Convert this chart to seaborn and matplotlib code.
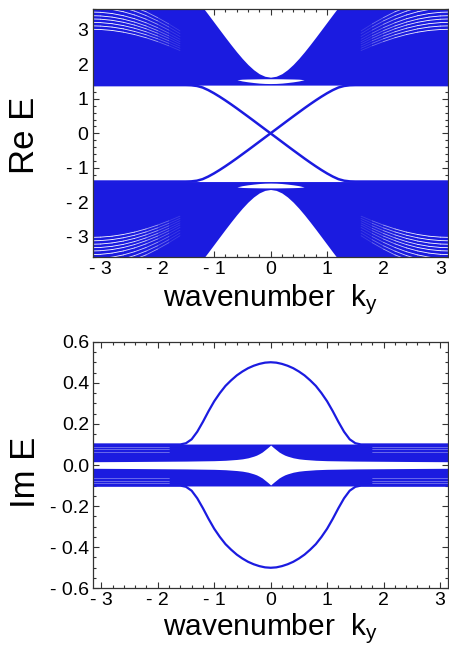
import numpy as np
import pandas as pd
import seaborn as sns
import matplotlib
matplotlib.use("Agg")
import matplotlib.pyplot as plt
from matplotlib.ticker import MultipleLocator, FuncFormatter

BLUE = "#1b1be0"

# ---- values for k >= 0 (the spectrum is even in k, and E -> -E)
# Re E: upper edge of the upper bulk band (lower edge is flat at re_floor)
k_env = [0.0, 0.1, 0.2, 0.3, 0.4, 0.5, 0.6, 0.7, 0.8, 0.9, 1.0, 1.1, 1.2, 1.3, np.pi]
re_env = [1.63, 1.657, 1.731, 1.849, 1.999, 2.175, 2.369, 2.576, 2.790, 3.009,
          3.229, 3.449, 3.665, 3.8, 3.8]
re_floor = 1.40

# small gap (lens) inside the bulk band near k = 0
k_lens = [0.0, 0.1, 0.2, 0.3, 0.4, 0.5, 0.59]
lens_lo = [1.445, 1.448, 1.458, 1.475, 1.495, 1.52, 1.555]
lens_hi = [1.585, 1.585, 1.583, 1.58, 1.577, 1.572, 1.558]

# thin gaps between the sparse bulk levels at large |k|
k_streak = [1.6, 1.8, 2.0, 2.2, 2.4, 2.6, 2.8, 3.0, np.pi]
streaks = [
    [2.973, 3.178, 3.363, 3.530, 3.656, 3.750, 3.800, 3.830, 3.840],
    [2.894, 3.091, 3.268, 3.420, 3.548, 3.647, 3.700, 3.730, 3.740],
    [2.813, 3.000, 3.168, 3.315, 3.436, 3.530, 3.596, 3.633, 3.640],
    [2.733, 2.911, 3.071, 3.210, 3.326, 3.415, 3.478, 3.513, 3.520],
    [2.663, 2.833, 2.986, 3.118, 3.229, 3.315, 3.375, 3.408, 3.415],
    [2.601, 2.763, 2.909, 3.036, 3.142, 3.224, 3.281, 3.313, 3.320],
    [2.535, 2.689, 2.828, 2.949, 3.050, 3.128, 3.183, 3.214, 3.220],
    [2.470, 2.616, 2.748, 2.863, 2.958, 3.033, 3.085, 3.114, 3.120],
    [2.405, 2.543, 2.667, 2.776, 2.867, 2.937, 2.987, 3.014, 3.020],
]
streak_alpha = [0.15, 0.35, 0.6, 0.8, 0.9, 1.0, 1.0, 1.0]

# edge states
k_edge = [0.0, 0.1, 0.2, 0.3, 0.4, 0.5, 0.6, 0.7, 0.8, 0.9, 1.0, 1.1, 1.2, 1.3, 1.4,
          1.5, 1.6, 2.0, 2.5, np.pi]
re_edge = [0.0, 0.122, 0.245, 0.368, 0.49, 0.61, 0.73, 0.846, 0.958, 1.065, 1.165,
           1.255, 1.33, 1.375, 1.395, 1.40, 1.40, 1.40, 1.40, 1.40]
im_edge = [0.500, 0.498, 0.492, 0.483, 0.471, 0.455, 0.436, 0.412, 0.385, 0.350, 0.310,
           0.262, 0.210, 0.162, 0.125, 0.106, 0.100, 0.100, 0.100, 0.100]

# Im E: bulk band spans im_gap .. im_top (and mirrored below zero)
k_gap = [0.0, 0.05, 0.1, 0.15, 0.2, 0.25, 0.3, 0.4, 0.5, 0.6, 0.8, 1.0, 1.5, 2.0, 2.5, np.pi]
im_gap = [0.097, 0.085, 0.074, 0.063, 0.055, 0.048, 0.043, 0.035, 0.030, 0.027,
          0.023, 0.021, 0.019, 0.018, 0.017, 0.016]
im_top = 0.102
k_im_streak = [1.8, np.pi]
im_streaks = [0.089, 0.076, 0.065]


def full_even(k, v):
    k = np.asarray(k, float); v = np.asarray(v, float)
    return np.r_[-k[::-1], k[1:]], np.r_[v[::-1], v[1:]]


def full_odd(k, v):
    k = np.asarray(k, float); v = np.asarray(v, float)
    return np.r_[-k[::-1], k[1:]], np.r_[-v[::-1], v[1:]]


def fmt_int(x, pos):
    return f"- {abs(x):.0f}" if x < -1e-9 else f"{abs(x):.0f}"


def fmt_dec(x, pos):
    return f"- {abs(x):.1f}" if x < -1e-9 else f"{abs(x):.1f}"


def line_df(curves):
    rows = []
    for i, (kk, vv) in enumerate(curves):
        rows.append(pd.DataFrame({"k": kk, "E": vv, "branch": i}))
    return pd.concat(rows, ignore_index=True)


sns.set_theme(style="ticks")
plt.rcParams["font.family"] = ["Liberation Sans", "DejaVu Sans"]
plt.rcParams["mathtext.default"] = "regular"

fig = plt.figure(figsize=(4.49, 6.48), dpi=100)
ax1 = fig.add_axes([0.2065, 0.6029, 0.792, 0.3827])
ax2 = fig.add_axes([0.2078, 0.0921, 0.790, 0.3806])

# ---- Re E
ke, ve = full_even(k_env, re_env)
kl, lo = full_even(k_lens, lens_lo)
_, hi = full_even(k_lens, lens_hi)
for s in (1, -1):
    ax1.fill_between(ke, s * re_floor, s * ve, color=BLUE, lw=0)
    ax1.fill_between(kl, s * lo, s * hi, color="white", lw=0)

# the gaps fade out where the levels crowd together (small |k|)
ks = np.asarray(k_streak)
for j, a in enumerate(streak_alpha):
    seg = []
    for vals in streaks:
        vv = np.asarray(vals)[j:j + 2]
        for sk in (1, -1):
            for sv in (1, -1):
                seg.append((sk * ks[j:j + 2], sv * vv))
    sns.lineplot(data=line_df(seg), x="k", y="E", units="branch", estimator=None,
                 sort=False, color="white", lw=0.6, alpha=a, ax=ax1, legend=False)

kr, vr = full_odd(k_edge, re_edge)
sns.lineplot(data=line_df([(kr, vr), (kr, -vr)]), x="k", y="E", units="branch",
             estimator=None, sort=False, color=BLUE, lw=1.8, ax=ax1, legend=False)

# ---- Im E
kg, vg = full_even(k_gap, im_gap)
ax2.fill_between(kg, vg, im_top, color=BLUE, lw=0)
ax2.fill_between(kg, -im_top, -vg, color=BLUE, lw=0)

im_lines = []
for v in im_streaks:
    for sk in (1, -1):
        for sv in (1, -1):
            im_lines.append((sk * np.asarray(k_im_streak), [sv * v, sv * v]))
sns.lineplot(data=line_df(im_lines), x="k", y="E", units="branch", estimator=None,
             sort=False, color="white", lw=0.4, alpha=0.6, ax=ax2, legend=False)

ki, vi = full_even(k_edge, im_edge)
sns.lineplot(data=line_df([(ki, vi), (ki, -vi)]), x="k", y="E", units="branch",
             estimator=None, sort=False, color=BLUE, lw=1.6, ax=ax2, legend=False)

# ---- axes styling
for ax in (ax1, ax2):
    ax.set_xlim(-np.pi, np.pi)
    ax.xaxis.set_major_locator(MultipleLocator(1))
    ax.xaxis.set_minor_locator(MultipleLocator(0.2))
    ax.xaxis.set_major_formatter(FuncFormatter(fmt_int))
    ax.tick_params(which="both", direction="in", top=True, right=True,
                   color="#333333", width=0.8, labelsize=14, labelcolor="black")
    ax.tick_params(which="major", length=4)
    ax.tick_params(which="minor", length=2)
    ax.tick_params(axis="x", pad=3)
    ax.tick_params(axis="y", pad=3)
    for sp in ax.spines.values():
        sp.set_color("#333333")
        sp.set_linewidth(0.9)
    ax.set_xlabel("wavenumber  k$_{y}$", fontsize=21.5, color="black")

ax1.set_ylim(-3.6, 3.6)
ax1.yaxis.set_major_locator(MultipleLocator(1))
ax1.yaxis.set_minor_locator(MultipleLocator(0.2))
ax1.yaxis.set_major_formatter(FuncFormatter(fmt_int))
ax1.set_ylabel("Re E", fontsize=25, color="black")

ax2.set_ylim(-0.6, 0.6)
ax2.yaxis.set_major_locator(MultipleLocator(0.2))
ax2.yaxis.set_minor_locator(MultipleLocator(0.05))
ax2.yaxis.set_major_formatter(FuncFormatter(fmt_dec))
ax2.set_ylabel("Im E", fontsize=25, color="black")

ax1.yaxis.set_label_coords(-0.145, 0.49)
ax2.yaxis.set_label_coords(-0.145, 0.47)
ax1.xaxis.set_label_coords(0.5, -0.1)
ax2.xaxis.set_label_coords(0.5, -0.092)

fig.savefig("out.png", dpi=100)
